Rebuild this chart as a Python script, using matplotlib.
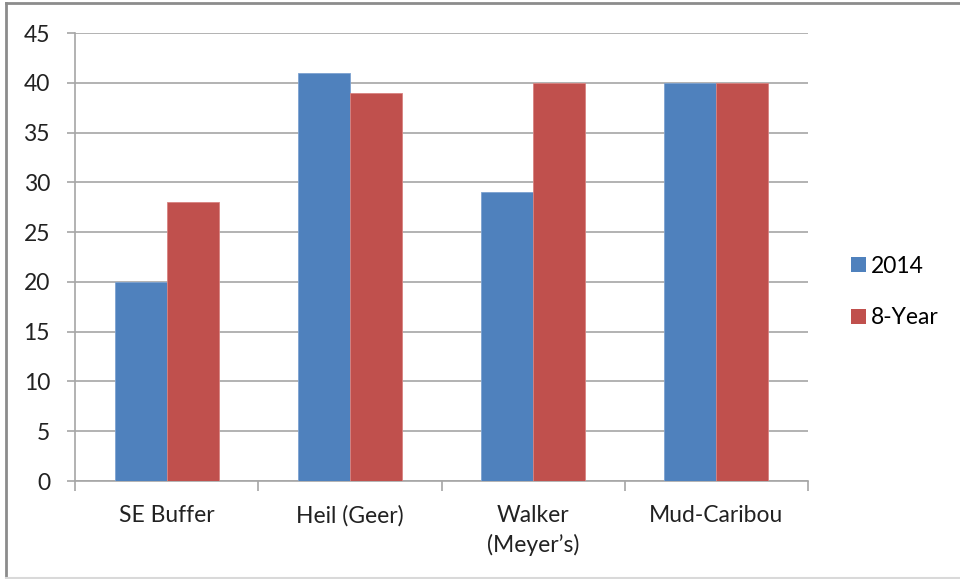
import numpy as np
from matplotlib import pyplot as plt
from matplotlib.lines import Line2D
from matplotlib.patches import Patch

# Sites and values for each series
sites = ["SE Buffer", "Heil (Geer)", "Walker\n(Meyer\u2019s)", "Mud-Caribou"]
values_2014 = [20, 41, 29, 40]
values_8yr = [28, 39, 40, 40]
series_names = ["2014", "8-Year"]

BLUE = "#4F81BD"
RED = "#C0504D"
GRID = "#A6A6A6"
FS = 16.5

plt.rcParams['font.family'] = ['Lato', 'DejaVu Sans']

W, H = 960, 579
fig = plt.figure(figsize=(W / 100, H / 100), dpi=100)
ax = fig.add_axes([75 / W, 98 / H, 733 / W, 448 / H])

x = np.arange(len(sites))
bw = 0.284
ax.bar(x - bw / 2, values_2014, bw, color=BLUE, edgecolor="#7DA2D0", linewidth=0.6, zorder=3)
ax.bar(x + bw / 2, values_8yr, bw, color=RED, edgecolor="#D98380", linewidth=0.6, zorder=3)

ax.set_xlim(-0.5, len(sites) - 0.5)
ax.set_ylim(0, 45)
ax.set_yticks(range(0, 46, 5))
ax.yaxis.grid(True, color=GRID, linewidth=1.2, zorder=0)
ax.set_axisbelow(True)

# category labels sit between the boundary ticks
ax.set_xticks(np.arange(-0.5, len(sites), 1.0))
ax.set_xticklabels([])
ax.set_xticks(x, minor=True)
ax.set_xticklabels(sites, minor=True, fontsize=FS, color="#222222", linespacing=1.45)
ax.tick_params(axis='x', which='minor', length=0, pad=17)
ax.tick_params(axis='x', which='major', length=7, color=GRID, width=1.2)
ax.tick_params(axis='y', length=6, color=GRID, width=1.2, labelsize=FS, labelcolor="#222222", pad=12)

for side in ["top", "right"]:
    ax.spines[side].set_visible(False)
for side in ["left", "bottom"]:
    ax.spines[side].set_color(GRID)
    ax.spines[side].set_linewidth(1.2)

handles = [Patch(facecolor=BLUE), Patch(facecolor=RED)]
fig.legend(handles, series_names, loc="center left", bbox_to_anchor=(840 / W, 1 - 292 / H),
           frameon=False, fontsize=FS, labelspacing=1.35, handlelength=0.65,
           handleheight=0.65, handletextpad=0.2, borderpad=0)

# outer frame
fig.add_artist(Line2D([6 / W, 1], [1 - 3 / H, 1 - 3 / H], transform=fig.transFigure,
                      color="#8C8C8C", linewidth=2))
fig.add_artist(Line2D([6 / W, 6 / W], [1 / H, 1 - 3 / H], transform=fig.transFigure,
                      color="#8C8C8C", linewidth=2))
fig.add_artist(Line2D([6 / W, 1], [1 / H, 1 / H], transform=fig.transFigure,
                      color="#D9D9D9", linewidth=1.5))

fig.savefig("out.png", dpi=100)
